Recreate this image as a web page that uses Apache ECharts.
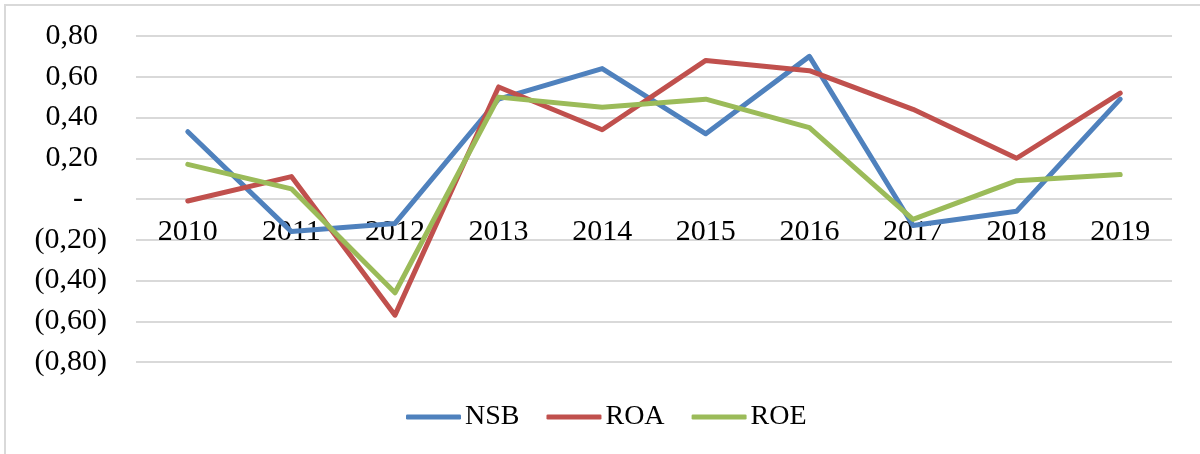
<!DOCTYPE html>
<html>
<head>
<meta charset="utf-8">
<script src="https://cdn.jsdelivr.net/npm/echarts@6/dist/echarts.min.js"></script>
<style>
  html, body { margin: 0; padding: 0; background: #fff; }
  #chart { width: 1200px; height: 454px; }
</style>
</head>
<body>
<div id="chart"></div>
<script>
var years = ["2010", "2011", "2012", "2013", "2014", "2015", "2016", "2017", "2018", "2019"];
var nsb = [0.33, -0.16, -0.12, 0.49, 0.64, 0.32, 0.70, -0.13, -0.06, 0.49];
var roa = [-0.01, 0.11, -0.57, 0.55, 0.34, 0.68, 0.63, 0.44, 0.20, 0.52];
var roe = [0.17, 0.05, -0.46, 0.50, 0.45, 0.49, 0.35, -0.10, 0.09, 0.12];

var font = "'Liberation Serif', 'Times New Roman', serif";

function makeLine(name, data, color) {
  return {
    name: name,
    type: "line",
    data: data,
    symbol: "none",
    lineStyle: { color: color, width: 5, cap: "round", join: "round" },
    itemStyle: { color: color }
  };
}

var chart = echarts.init(document.getElementById("chart"));
chart.setOption({
  animation: false,
  grid: { left: 136, right: 28, top: 36, bottom: 92 },
  // khung ngoài mờ (chỉ thấy cạnh trên và trái)
  graphic: [{
    type: "rect",
    shape: { x: 5, y: 5, width: 1400, height: 600 },
    style: { fill: null, stroke: "#d9d9d9", lineWidth: 2 },
    silent: true
  }],
  xAxis: {
    type: "category",
    data: years,
    // nhãn năm nằm ngay dưới đường 0 (đẩy trục lên)
    offset: -163,
    axisLine: { show: false, onZero: false },
    axisTick: { show: false },
    axisLabel: { fontFamily: font, fontSize: 30, color: "#000", margin: 18 }
  },
  yAxis: {
    type: "value",
    min: -0.8,
    max: 0.8,
    interval: 0.2,
    splitLine: { lineStyle: { color: "#d9d9d9", width: 2 } },
    axisLabel: {
      fontFamily: font,
      fontSize: 30,
      color: "#000",
      margin: 29,
      formatter: function (v) {
        if (Math.abs(v) < 1e-6) return "{z|-}";
        var s = Math.abs(v).toFixed(2).replace(".", ",");
        return v > 0 ? "{p|" + s + "}" : "{n|(" + s + ")}";
      },
      rich: {
        p: { fontFamily: font, fontSize: 30, color: "#000", padding: [0, 9, 0, 0] },
        n: { fontFamily: font, fontSize: 30, color: "#000" },
        z: { fontFamily: font, fontSize: 30, color: "#000", padding: [0, 24, 0, 0] }
      }
    }
  },
  legend: {
    left: 401,
    top: 398,
    icon: "roundRect",
    itemWidth: 55,
    itemHeight: 5,
    itemGap: 27,
    textStyle: { fontFamily: font, fontSize: 28, color: "#000", padding: [0, 0, 0, -1] },
    data: ["NSB", "ROA", "ROE"]
  },
  series: [
    makeLine("NSB", nsb, "#4f81bd"),
    makeLine("ROA", roa, "#c0504d"),
    makeLine("ROE", roe, "#9bbb59")
  ]
});
</script>
</body>
</html>
